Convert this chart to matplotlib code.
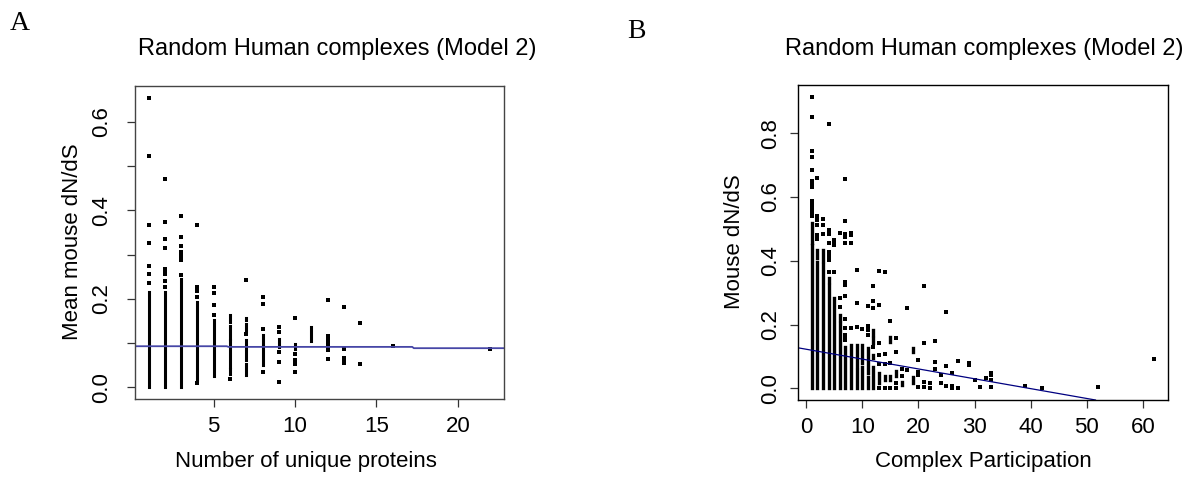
import matplotlib
matplotlib.use("Agg")
import matplotlib.pyplot as plt

plt.rcParams['font.family'] = ['Liberation Sans', 'DejaVu Sans']

# ---- panel A: Number of unique proteins vs mean mouse dN/dS ----
# dense runs of stacked points (x, low, high)
a_seg_x = [1, 2, 3, 4, 5, 6, 6, 6, 6, 7, 7, 7, 7, 7, 8, 8, 9, 10, 11]
a_seg_lo = [0.0, 0.0, 0.0, 0.016, 0.026, 0.030, 0.047, 0.110, 0.148,
            0.028, 0.062, 0.088, 0.128, 0.152, 0.050, 0.099, 0.092, 0.086, 0.105]
a_seg_hi = [0.215, 0.216, 0.244, 0.192, 0.152, 0.041, 0.107, 0.139, 0.163,
            0.052, 0.080, 0.108, 0.143, 0.157, 0.093, 0.118, 0.110, 0.099, 0.137]
# single points
a_pt_x = [1, 1, 1, 1, 1, 1, 1,
          2, 2, 2, 2, 2, 2, 2, 2, 2,
          3, 3, 3, 3, 3, 3, 3,
          4, 4, 4, 4, 4,
          5, 5, 5, 5,
          6,
          7, 7,
          8, 8, 8, 8,
          9, 9, 9, 9, 9,
          10, 10, 10, 10, 10,
          12, 12, 12, 12, 12, 12, 12,
          13, 13, 13, 13, 13,
          14, 14, 16, 22]
a_pt_y = [0.655, 0.523, 0.368, 0.326, 0.274, 0.256, 0.236,
          0.471, 0.374, 0.336, 0.314, 0.268, 0.262, 0.256, 0.240, 0.226,
          0.387, 0.340, 0.319, 0.305, 0.297, 0.289, 0.254,
          0.368, 0.226, 0.218, 0.205, 0.010,
          0.227, 0.214, 0.186, 0.163,
          0.019,
          0.243, 0.120,
          0.205, 0.188, 0.132, 0.034,
          0.137, 0.126, 0.080, 0.058, 0.013,
          0.156, 0.075, 0.062, 0.054, 0.035,
          0.197, 0.116, 0.107, 0.100, 0.091, 0.085, 0.064,
          0.181, 0.088, 0.067, 0.061, 0.055,
          0.146, 0.053, 0.094, 0.086]
a_fit_x = [0, 5.8, 5.9, 17.2, 17.3, 23]
a_fit_y = [0.0932, 0.0932, 0.0917, 0.0917, 0.0888, 0.0888]

# ---- panel B: complex participation vs mouse dN/dS ----
b_seg_x = [1, 1, 2, 2, 3, 3, 4, 4, 5, 6, 6, 7, 8, 9, 9, 10, 10, 11, 11,
           12, 12, 12, 12, 13, 14, 15, 15, 16, 17, 19, 19]
b_seg_lo = [0.0, 0.455, 0.0, 0.410, 0.0, 0.400, 0.0, 0.334, 0.0, 0.0, 0.214,
            0.0, 0.0, 0.0, 0.068, 0.0, 0.078, 0.0, 0.047,
            0.0, 0.094, 0.141, 0.167, 0.016, 0.026, 0.026, 0.146, 0.040, 0.010,
            0.016, 0.115]
b_seg_hi = [0.448, 0.517, 0.395, 0.435, 0.390, 0.435, 0.324, 0.345, 0.282, 0.204, 0.230,
            0.131, 0.135, 0.058, 0.135, 0.068, 0.135, 0.037, 0.125,
            0.068, 0.104, 0.157, 0.183, 0.047, 0.039, 0.040, 0.162, 0.055, 0.021,
            0.037, 0.125]
b_pt_x = [1] * 13 + [2] * 6 + [3] * 3 + [4] * 8 + [5] * 4 + [6] * 3 + [7] * 13 \
    + [8] * 4 + [9] * 3 + [10] + [11] * 4 + [12] * 4 + [13] * 6 + [14] * 4 \
    + [15] * 3 + [16] * 4 + [17] * 2 + [18] * 2 + [20] * 4 + [21] * 4 + [22] * 2 \
    + [23] * 3 + [24] * 2 + [25] * 3 + [26] * 3 + [27] * 2 + [29] * 2 + [30, 31, 32] \
    + [33] * 4 + [39, 42, 52, 62]
b_pt_y = [0.912, 0.850, 0.744, 0.724, 0.686, 0.651, 0.641, 0.632, 0.588, 0.575, 0.562, 0.550, 0.540,
          0.658, 0.540, 0.528, 0.512, 0.480, 0.468,
          0.530, 0.512, 0.484,
          0.828, 0.497, 0.484, 0.457, 0.428, 0.415, 0.402, 0.366,
          0.465, 0.457, 0.449, 0.364,
          0.487, 0.282, 0.255,
          0.656, 0.525, 0.485, 0.475, 0.457, 0.332, 0.325, 0.289, 0.217, 0.188, 0.167, 0.159, 0.151,
          0.487, 0.480, 0.457, 0.188,
          0.371, 0.268, 0.191,
          0.187,
          0.258, 0.196, 0.183, 0.167,
          0.320, 0.274, 0.251, 0.131,
          0.367, 0.262, 0.143, 0.104, 0.075, 0.0,
          0.366, 0.107, 0.076, 0.0,
          0.212, 0.078, 0.0,
          0.157, 0.115, 0.016, 0.0,
          0.060, 0.039,
          0.251, 0.058,
          0.088, 0.052, 0.041, 0.005,
          0.320, 0.141, 0.019, 0.005,
          0.018, 0.0,
          0.149, 0.083, 0.062,
          0.042, 0.016,
          0.238, 0.069, 0.008,
          0.047, 0.008, 0.0,
          0.085, 0.0,
          0.080, 0.073,
          0.025, 0.003, 0.031,
          0.047, 0.042, 0.026, 0.003,
          0.006, 0.0, 0.003, 0.091]
b_fit_intercept = 0.1226
b_fit_slope = -0.00309

W, H = 1204, 479


def fx(px):
    return px / W


def fy(py):
    return 1 - py / H


fig = plt.figure(figsize=(12.04, 4.79), dpi=100, facecolor='white')

axA = fig.add_axes([fx(135), fy(399), fx(504) - fx(135), fy(86) - fy(399)])
axB = fig.add_axes([fx(798), fy(400), fx(1168) - fx(798), fy(85) - fy(400)])

# panel A
axA.vlines(a_seg_x, a_seg_lo, a_seg_hi, colors='black', linewidth=2.2, capstyle='projecting')
axA.plot(a_pt_x, a_pt_y, 's', color='black', markersize=2.4, markeredgewidth=0)
axA.plot(a_fit_x, a_fit_y, color='#4646a6', linewidth=1.3)
axA.set_xlim(0.16, 22.84)
axA.set_ylim(-0.026, 0.681)
axA.set_xticks([5, 10, 15, 20])
axA.set_yticks([0.0, 0.1, 0.2, 0.3, 0.4, 0.5, 0.6])
axA.set_yticklabels(['0.0', '', '0.2', '', '0.4', '', '0.6'])

# panel B
axB.vlines(b_seg_x, b_seg_lo, b_seg_hi, colors='black', linewidth=2.4, capstyle='projecting')
axB.plot(b_pt_x, b_pt_y, 's', color='black', markersize=2.5, markeredgewidth=0)
axB.axline((0, b_fit_intercept), slope=b_fit_slope, color='#000080', linewidth=0.9)
axB.set_xlim(-1.44, 64.44)
axB.set_ylim(-0.0366, 0.951)
axB.set_xticks([0, 10, 20, 30, 40, 50, 60])
axB.set_yticks([0.0, 0.2, 0.4, 0.6, 0.8])

for ax, sc, ypad in ((axA, '#444444', 10.5), (axB, 'black', 6.5)):
    for s in ax.spines.values():
        s.set_color(sc)
        s.set_linewidth(1.0)
    ax.tick_params(axis='both', length=6, width=0.9, color='#333333', labelsize=16)
    ax.tick_params(axis='x', pad=6)
    ax.tick_params(axis='y', pad=ypad)
    for lab in ax.get_yticklabels():
        lab.set_rotation(90)
        lab.set_va('center')

# titles and labels
title = 'Random Human complexes (Model 2)'
fig.text(fx(337), fy(49), title, ha='center', va='center', fontsize=17)
fig.text(fx(984), fy(49), title, ha='center', va='center', fontsize=17)
fig.text(fx(306), fy(461), 'Number of unique proteins', ha='center', va='center', fontsize=16)
fig.text(fx(983), fy(461), 'Complex Participation', ha='center', va='center', fontsize=16)
fig.text(fx(72), fy(242), 'Mean mouse dN/dS', ha='center', va='center', rotation=90, fontsize=16)
fig.text(fx(735), fy(242), 'Mouse dN/dS', ha='center', va='center', rotation=90, fontsize=16)

fig.text(fx(10), fy(23), 'A', ha='left', va='center', fontsize=20, family='Liberation Serif')
fig.text(fx(627), fy(31), 'B', ha='left', va='center', fontsize=20, family='Liberation Serif')

fig.savefig('out.png', dpi=100, facecolor='white')
